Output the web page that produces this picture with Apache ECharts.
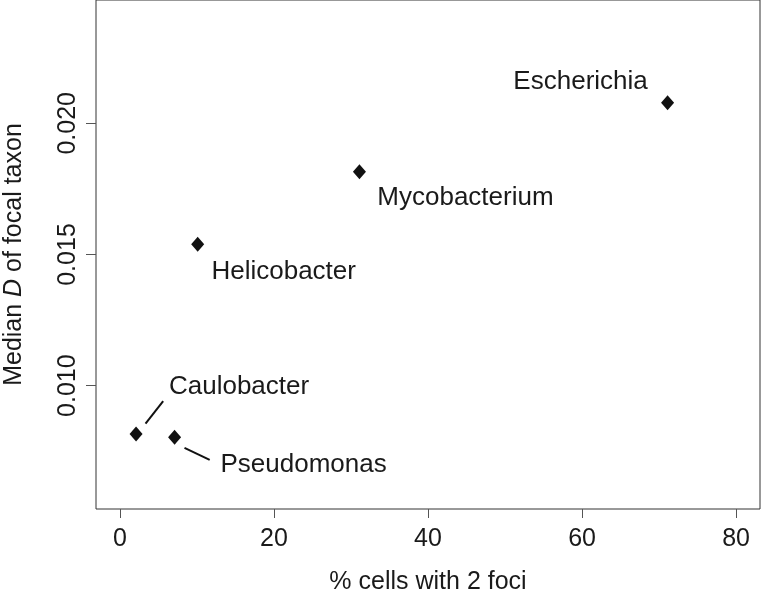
<!DOCTYPE html>
<html>
<head>
<meta charset="utf-8">
<script src="https://cdn.jsdelivr.net/npm/echarts@6/dist/echarts.min.js"></script>
<style>
  html, body { margin: 0; padding: 0; background: #fff; }
  #chart { width: 762px; height: 591px; }
</style>
</head>
<body>
<div id="chart"></div>
<script>
// ---- data ----
const taxa = ['Caulobacter', 'Pseudomonas', 'Helicobacter', 'Mycobacterium', 'Escherichia'];
const pctTwoFoci = [2.1, 7.1, 10.1, 31.1, 71.1];
const medianD = [0.00816, 0.00803, 0.01539, 0.01815, 0.02078];
const xTicks = [0, 20, 40, 60, 80];
const yTicks = [0.010, 0.015, 0.020];
const leaderCaulobacter = [[3.33, 0.00855], [5.62, 0.00941]];
const leaderPseudomonas = [[8.39, 0.00763], [11.66, 0.00717]];

// ---- label placement (pixels, relative to point) ----
const labelOffsets = {
  Caulobacter: [103, -47],
  Pseudomonas: [129, 27],
  Helicobacter: [86, 28],
  Mycobacterium: [106, 26],
  Escherichia: [-87, -21]
};

const FONT = '"Liberation Sans", Arial, Helvetica, sans-serif';
const TXT = '#1a1a1a';

const chart = echarts.init(document.getElementById('chart'), null, { renderer: 'canvas' });

const points = taxa.map((t, i) => ({
  name: t,
  value: [pctTwoFoci[i], medianD[i]],
  label: { offset: labelOffsets[t] }
}));

const leaderSeries = [leaderCaulobacter, leaderPseudomonas].map(seg => ({
  type: 'line',
  data: seg,
  symbol: 'none',
  silent: true,
  animation: false,
  lineStyle: { color: '#111', width: 2 }
}));

chart.setOption({
  animation: false,
  backgroundColor: '#fff',
  grid: {
    left: 96, right: 2, top: 0, bottom: 82,
    containLabel: false,
    outerBoundsMode: 'none',
    show: true, borderColor: '#333', borderWidth: 1, backgroundColor: 'transparent'
  },
  xAxis: {
    type: 'value',
    min: -3.1, max: 83.1,
    axisLine: { show: false, onZero: false },
    splitLine: { show: false },
    axisTick: { show: true, length: 9, inside: false, customValues: xTicks, lineStyle: { color: '#555', width: 1 } },
    axisLabel: { show: true, customValues: xTicks, margin: 18, fontSize: 25, fontFamily: FONT, color: TXT,
      showMinLabel: true, showMaxLabel: true },
    name: '% cells with 2 foci',
    nameLocation: 'middle',
    nameGap: 61,
    nameTextStyle: { fontSize: 25, fontFamily: FONT, color: TXT }
  },
  yAxis: {
    type: 'value',
    min: 0.0053, max: 0.0247,
    axisLine: { show: false, onZero: false },
    splitLine: { show: false },
    axisTick: { show: true, length: 10, inside: false, customValues: yTicks, lineStyle: { color: '#555', width: 1 } },
    axisLabel: { show: true, customValues: yTicks, rotate: 90, margin: 15, fontSize: 25, fontFamily: FONT, color: TXT,
      formatter: v => v.toFixed(3) },
    name: 'Median {i|D} of focal taxon',
    nameLocation: 'middle',
    nameGap: 69,
    nameTextStyle: { fontSize: 25, fontFamily: FONT, color: TXT,
      rich: { i: { fontSize: 25, fontFamily: FONT, fontStyle: 'italic', color: TXT } } }
  },
  series: [
    {
      type: 'scatter',
      data: points,
      symbol: 'diamond',
      symbolSize: [13, 15],
      itemStyle: { color: '#111', opacity: 1 },
      label: {
        show: true,
        position: 'inside',
        formatter: p => p.name,
        fontSize: 26,
        fontFamily: FONT,
        color: TXT,
        opacity: 1,
        align: 'center',
        verticalAlign: 'middle'
      },
      emphasis: { disabled: true },
      z: 3
    },
    ...leaderSeries
  ]
});
</script>
</body>
</html>
